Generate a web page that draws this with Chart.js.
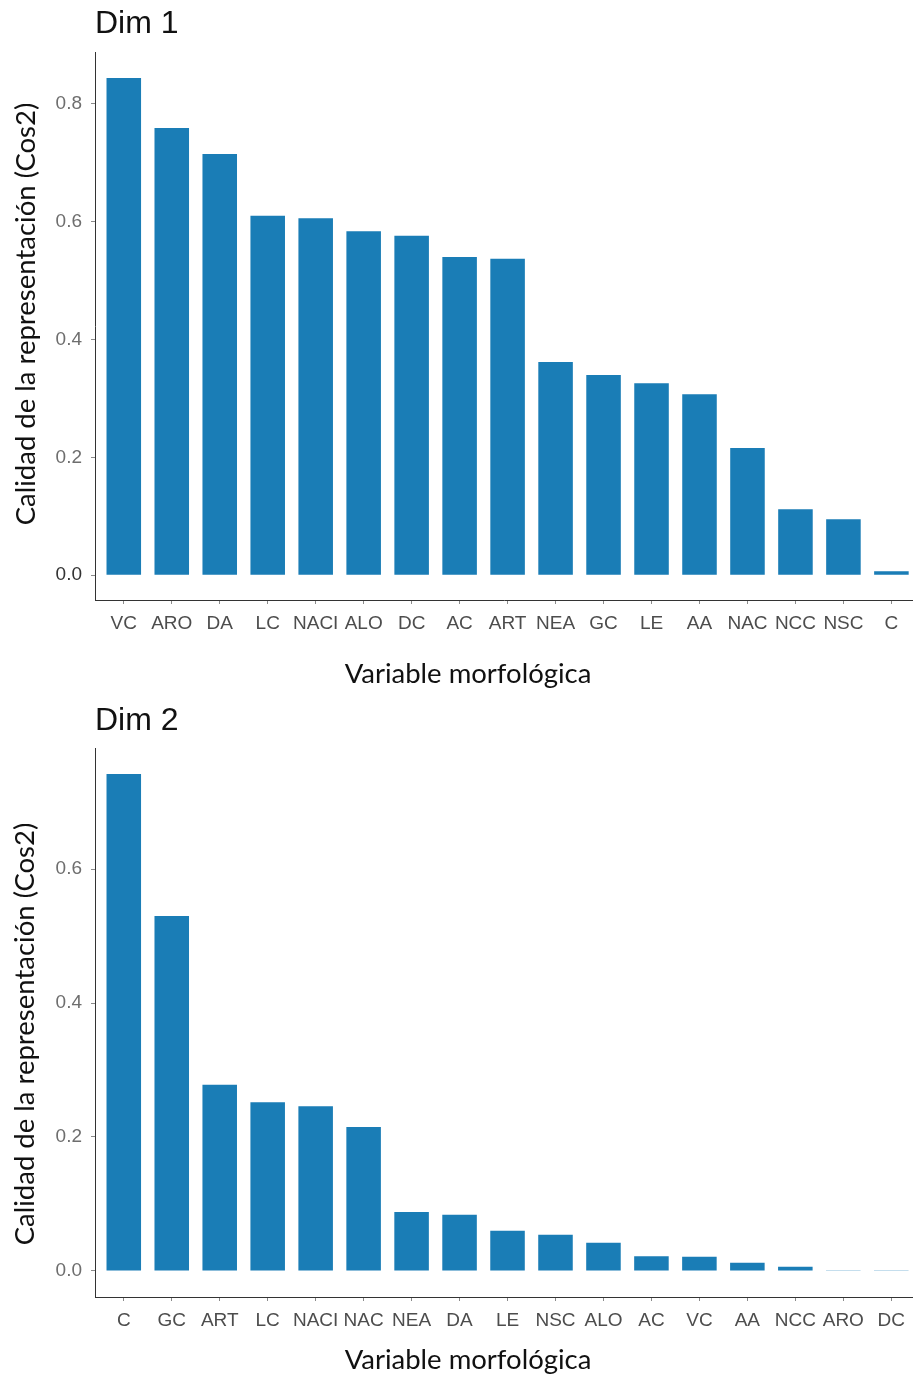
<!DOCTYPE html>
<html>
<head>
<meta charset="utf-8">
<script src="https://cdn.jsdelivr.net/npm/chart.js@4.4.1/dist/chart.umd.min.js"></script>
<style>
  html, body { margin: 0; padding: 0; background: #ffffff; }
  #wrap { position: relative; width: 913px; height: 1378px; }
  .panel { position: absolute; left: 0; width: 913px; }
</style>
</head>
<body>
<div id="wrap">
  <div class="panel" style="top:0;height:700px"><canvas id="dim1" width="913" height="700"></canvas></div>
  <div class="panel" style="top:700px;height:678px"><canvas id="dim2" width="913" height="678"></canvas></div>
</div>
<script>
// Quality of representation (cos2) of each morphological variable, per dimension
const dim1Labels = ['VC', 'ARO', 'DA', 'LC', 'NACI', 'ALO', 'DC', 'AC', 'ART', 'NEA', 'GC', 'LE', 'AA', 'NAC', 'NCC', 'NSC', 'C'];
const dim1Values = [0.844, 0.759, 0.715, 0.610, 0.606, 0.584, 0.576, 0.540, 0.537, 0.362, 0.340, 0.326, 0.307, 0.216, 0.112, 0.095, 0.007];

const dim2Labels = ['C', 'GC', 'ART', 'LC', 'NACI', 'NAC', 'NEA', 'DA', 'LE', 'NSC', 'ALO', 'AC', 'VC', 'AA', 'NCC', 'ARO', 'DC'];
const dim2Values = [0.742, 0.530, 0.278, 0.252, 0.246, 0.215, 0.088, 0.084, 0.060, 0.054, 0.042, 0.022, 0.021, 0.012, 0.006, 0.001, 0.001];

const dim1YTicks = [0, 0.2, 0.4, 0.6, 0.8];
const dim2YTicks = [0, 0.2, 0.4, 0.6];

const yTitle = 'Calidad de la representación (Cos2)';
const xTitle = 'Variable morfológica';

const BAR_COLOR = '#1a7db6';
const TICK_FONT = { family: '"Liberation Sans", Arial, sans-serif', size: 19 };
const LABEL_FONT = '27.5px Lato, "Open Sans", sans-serif';

// Draws the axis captions (x below the tick labels, y rotated at the left edge)
const axisCaptions = {
  id: 'axisCaptions',
  afterDraw(chart, args, opts) {
    const ctx = chart.ctx;
    ctx.save();
    ctx.font = opts.font;
    ctx.fillStyle = opts.color;
    ctx.textAlign = 'center';
    ctx.textBaseline = 'middle';
    ctx.fillText(opts.xText, opts.xPos[0], opts.xPos[1]);
    ctx.translate(opts.yPos[0], opts.yPos[1]);
    ctx.rotate(-Math.PI / 2);
    ctx.fillText(opts.yText, 0, 0);
    ctx.restore();
  }
};

function buildChart(canvasId, title, labels, values, yTicks, cfg) {
  const points = labels.map((l, i) => ({ x: i, y: values[i] }));
  return new Chart(document.getElementById(canvasId), {
    type: 'bar',
    data: {
      datasets: [{
        data: points,
        backgroundColor: BAR_COLOR,
        borderWidth: 0,
        categoryPercentage: 0.8,
        barPercentage: 0.9
      }]
    },
    plugins: [axisCaptions],
    options: {
      responsive: false,
      animation: false,
      layout: { padding: 0 },
      plugins: {
        legend: { display: false },
        tooltip: { enabled: false },
        title: {
          display: true,
          text: title,
          align: 'start',
          fullSize: false,
          color: '#111111',
          font: { family: '"Liberation Sans", Arial, sans-serif', size: 32, weight: 'normal' },
          padding: cfg.titlePadding
        },
        axisCaptions: {
          xText: xTitle,
          yText: yTitle,
          xPos: cfg.xCaptionPos,
          yPos: cfg.yCaptionPos,
          font: LABEL_FONT,
          color: '#111111'
        }
      },
      scales: {
        x: {
          type: 'linear',
          offset: false,
          min: -0.6,
          max: 16.45,
          afterFit(scale) { scale.height = cfg.xHeight; },
          afterBuildTicks(scale) { scale.ticks = labels.map((l, i) => ({ value: i })); },
          ticks: {
            autoSkip: false,
            maxRotation: 0,
            minRotation: 0,
            padding: 8,
            color: '#4d4d4d',
            font: TICK_FONT,
            callback: (v) => labels[v]
          },
          grid: { display: true, offset: false, drawOnChartArea: false, drawTicks: true, tickLength: 4, color: '#8a8a8a' },
          border: { display: true, color: '#333333', width: 1 }
        },
        y: {
          type: 'linear',
          min: cfg.yMin,
          max: cfg.yMax,
          afterFit(scale) { scale.width = 95; },
          afterBuildTicks(scale) { scale.ticks = yTicks.map(v => ({ value: v })); },
          ticks: {
            padding: 9,
            color: (c) => (cfg.boldZero && c.tick && c.tick.value === 0) ? '#333333' : '#6e6e6e',
            font: TICK_FONT,
            callback: (v) => v.toFixed(1)
          },
          grid: { display: true, drawOnChartArea: false, drawTicks: true, tickLength: 4, color: '#8a8a8a' },
          border: { display: true, color: '#333333', width: 1 }
        }
      }
    }
  });
}

buildChart('dim1', 'Dim 1', dim1Labels, dim1Values, dim1YTicks, {
  titlePadding: { top: 5, bottom: 8.6 },
  xHeight: 100,
  xCaptionPos: [468, 674],
  yCaptionPos: [26, 314],
  yMin: -0.042,
  yMax: 0.888,
  boldZero: true
});

buildChart('dim2', 'Dim 2', dim2Labels, dim2Values, dim2YTicks, {
  titlePadding: { top: 2, bottom: 7.6 },
  xHeight: 81,
  xCaptionPos: [468, 660],
  yCaptionPos: [25, 334],
  yMin: -0.039,
  yMax: 0.781,
  boldZero: false
});
</script>
</body>
</html>
